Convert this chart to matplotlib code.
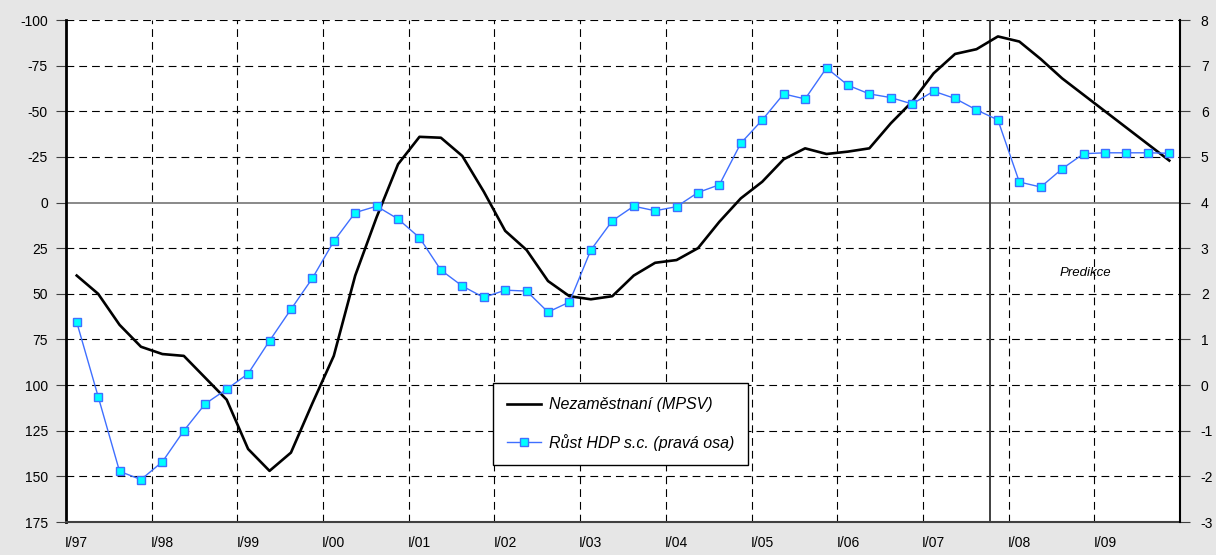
import matplotlib
matplotlib.use("Agg")
import matplotlib.pyplot as plt
import numpy as np

plt.rcParams['font.family'] = ['Liberation Sans', 'DejaVu Sans']
plt.rcParams['axes.unicode_minus'] = False

# ctvrtletni data I/97 - IV/09
nezam = [40, 50, 67, 79, 83, 84, 96, 108, 135, 147, 137, 110,
         84, 40, 8, -21, -36, -35.5, -25.5, -6, 15.5, 26, 43, 51.3,
         53, 51.3, 40, 33, 31.5, 25, 10.5, -2.3, -11.4, -23.7, -29.7, -26.6,
         -27.9, -29.7, -43.4, -55.3, -70.8, -81.4, -84, -91, -88.2, -78.6, -68, -59,
         -50, -41, -32, -23]
hdp = [1.38, -0.25, -1.89, -2.07, -1.68, -1.0, -0.41, -0.09, 0.25, 0.97, 1.66, 2.34,
       3.15, 3.78, 3.92, 3.64, 3.23, 2.52, 2.17, 1.92, 2.08, 2.06, 1.6, 1.82,
       2.96, 3.6, 3.92, 3.82, 3.91, 4.22, 4.39, 5.30, 5.81, 6.38, 6.27, 6.95,
       6.57, 6.38, 6.30, 6.16, 6.44, 6.28, 6.03, 5.81, 4.45, 4.34, 4.74, 5.07,
       5.09, 5.09, 5.09, 5.08]
roky = ["I/97", "I/98", "I/99", "I/00", "I/01", "I/02", "I/03",
        "I/04", "I/05", "I/06", "I/07", "I/08", "I/09"]
predikce_od = 42.65   # svisla cara - zacatek predikce

x = np.arange(len(nezam))

fig = plt.figure(figsize=(12.16, 5.55), dpi=100, facecolor="#e6e6e6")
ax = fig.add_axes([66/1216, 1-522/555, 1114/1216, 502/555])
ax.set_facecolor("white")

dash = (0, (7, 4.5))
for k in range(1, len(roky)):
    ax.axvline(4*k - 0.5, color="black", lw=0.8, ls=dash, zorder=1)
for v in range(-100, 176, 25):
    if v == 0:
        ax.axhline(v, color="#808080", lw=1.3, zorder=1)
    elif v != 175:
        ax.axhline(v, color="black", lw=0.8, ls=dash, zorder=1)
ax.axvline(predikce_od, color="#404040", lw=1.4, zorder=2)

l1, = ax.plot(x, nezam, color="black", lw=1.9, zorder=3, label="Nezaměstnaní (MPSV)")
ax.set_xlim(-0.5, len(nezam) - 0.5)
ax.set_ylim(175, -100)
ax.set_yticks(range(-100, 176, 25))
ax.set_xticks(range(0, len(nezam), 4))
ax.set_xticklabels(roky)
ax.tick_params(axis="x", length=0, pad=10, labelsize=10)
ax.tick_params(axis="y", length=7, width=0.8, color="#404040", pad=6, labelsize=10)
ax.spines["top"].set_visible(False)
ax.spines["right"].set_visible(False)
ax.spines["left"].set_linewidth(2)
ax.spines["bottom"].set_color("#404040")
ax.spines["bottom"].set_linewidth(1.5)

ax.text(47.1, 38.7, "Predikce", style="italic", fontsize=9.5,
        ha="center", va="center")

ax2 = ax.twinx()
l2, = ax2.plot(x, hdp, color="#3f6fff", lw=1, marker="s", ms=6,
               mfc="#00ffff", mec="#3f6fff", mew=1, zorder=4,
               label="Růst HDP s.c. (pravá osa)")
ax2.set_ylim(-3, 8)
ax2.set_yticks(range(-3, 9))
ax2.tick_params(axis="y", length=7, width=0.8, color="#404040", pad=8, labelsize=10)
ax2.spines["top"].set_visible(False)
ax2.spines["left"].set_visible(False)
ax2.spines["bottom"].set_visible(False)
ax2.spines["right"].set_linewidth(1.5)

leg = ax2.legend(handles=[l1, l2], loc="upper left", bbox_to_anchor=(0.383, 0.277),
                 borderaxespad=0, prop={"style": "italic", "size": 11.5},
                 frameon=True, fancybox=False, edgecolor="black", framealpha=1,
                 borderpad=0.9, labelspacing=1.35, handlelength=2.1, handletextpad=0.5)
leg.get_frame().set_linewidth(1)

fig.savefig("out.png", dpi=100, facecolor=fig.get_facecolor())
